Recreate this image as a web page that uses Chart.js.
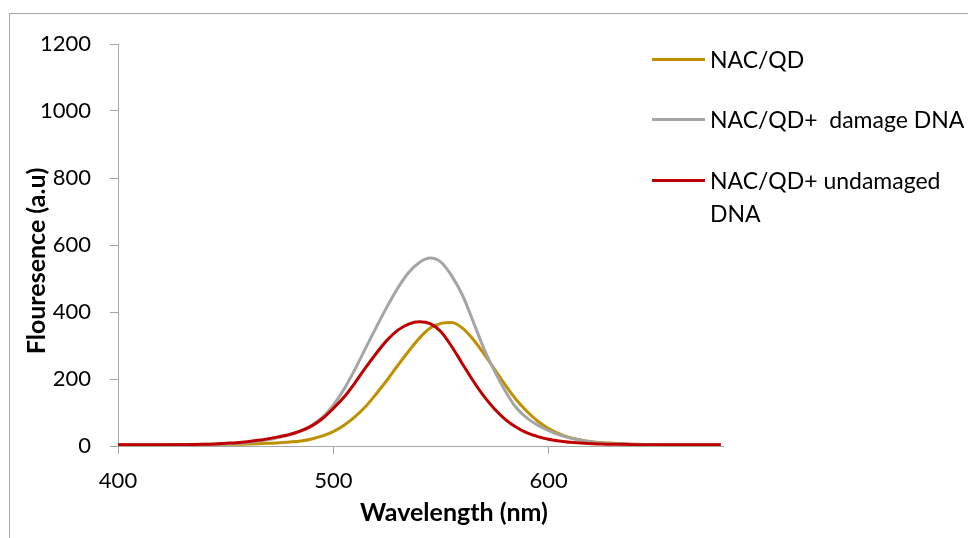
<!DOCTYPE html>
<html>
<head>
<meta charset="utf-8">
<title>Flouresence spectra</title>
<script src="https://cdn.jsdelivr.net/npm/chart.js@4.4.1/dist/chart.umd.min.js"></script>
<style>
  body { margin: 0; background: #fff; overflow: hidden; font-family: Lato, sans-serif; }
  #frame { position: absolute; left: 9px; top: 13px; width: 1000px; height: 600px; border: 1px solid #a6a6a6; }
  #chart { position: absolute; left: 0; top: 0; }
  .legend-item { position: absolute; left: 652px; display: flex; align-items: flex-start; }
  .legend-line { width: 53px; height: 3px; margin-top: 15px; margin-right: 5px; }
  .legend-text { width: 256px; font-size: 23px; line-height: 33px; white-space: pre-wrap; color: #000; }
</style>
</head>
<body>
<div id="frame"></div>
<canvas id="chart" width="968" height="538"></canvas>
<div id="legend"></div>

<script>
// values (5 nm steps where the peaks are)
const wavelengths = [400, 420,
    440, 445, 450, 455, 460, 465, 470, 475, 480, 485,
    490, 495, 500, 505, 510, 515, 520, 525, 530, 535,
    540, 545, 550, 555, 560, 565, 570, 575, 580, 585,
    590, 595, 600, 605, 610, 615, 620, 625, 630, 635,
    640, 660, 680];

const nacQd = [4, 4,
    4, 4, 5, 5, 6, 7, 8, 10, 12, 15,
    21, 30, 43, 62, 87, 118, 156, 197, 241, 283,
    322, 352, 366, 369, 352, 318, 275, 228, 181, 138,
    103, 74, 52, 36, 25, 18, 13, 10, 8, 6,
    5, 4, 4];

const damageDna = [4, 4,
    5, 5, 6, 8, 10, 14, 19, 26, 34, 46,
    62, 86, 122, 170, 228, 292, 355, 416, 472, 518,
    548, 561, 549, 508, 450, 371, 290, 222, 163, 114,
    83, 62, 46, 33, 24, 17, 12, 9, 7, 6,
    5, 4, 4];

const undamagedDna = [4, 4,
    5, 6, 8, 10, 13, 17, 22, 28, 35, 45,
    60, 82, 112, 146, 188, 234, 277, 316, 346, 364,
    371, 365, 341, 297, 245, 194, 148, 110, 79, 56,
    39, 28, 20, 15, 11, 9, 7, 6, 5, 5,
    4, 4, 4];

const seriesNames = ["NAC/QD", "NAC/QD+  damage DNA", "NAC/QD+ undamaged DNA"];
const seriesColors = ["#bf9000", "#a5a5a5", "#c00000"];

const xTicks = [400, 500, 600];
const yTicks = [0, 200, 400, 600, 800, 1000, 1200];

const xTitle = "Wavelength (nm)";
const yTitle = "Flouresence (a.u)";


window.onload = function () {

    drawChart();
    drawLegend();

};


function toPoints(values) {
    return wavelengths.map((w, i) => ({ x: w, y: values[i] }));
}


// axis titles are off-centre in the original, so they are placed by hand
const axisTitles = {
    id: "axisTitles",
    afterDraw(chart) {
        const ctx = chart.ctx;
        ctx.save();
        ctx.fillStyle = "#000";
        ctx.font = "bold 25px Lato";
        ctx.textAlign = "center";
        ctx.textBaseline = "middle";
        ctx.fillText(xTitle, 454, 513);
        ctx.translate(37, 261);
        ctx.rotate(-Math.PI / 2);
        ctx.fillText(yTitle, 0, 0);
        ctx.restore();
    }
};


function drawChart() {

    const ctx = document.getElementById("chart").getContext("2d");
    const all = [nacQd, damageDna, undamagedDna];

    // red first so it sits on top, like the original
    const order = [2, 1, 0];

    const tickFont = { family: "Lato", size: 22 };
    const axisGrey = "#a6a6a6";

    new Chart(ctx, {
        type: "line",
        data: {
            datasets: order.map(i => ({
                label: seriesNames[i],
                data: toPoints(all[i]),
                borderColor: seriesColors[i],
                backgroundColor: seriesColors[i],
                borderWidth: 3,
                pointRadius: 0,
                cubicInterpolationMode: "monotone",
                fill: false
            }))
        },
        options: {
            responsive: false,
            animation: false,
            devicePixelRatio: 1,
            layout: { padding: { left: 0, top: 44, right: 245, bottom: 0 } },
            plugins: {
                legend: { display: false },
                tooltip: { enabled: false }
            },
            scales: {
                x: {
                    type: "linear",
                    min: 400,
                    max: 681,
                    afterBuildTicks: s => { s.ticks = xTicks.map(v => ({ value: v })); },
                    afterFit: s => { s.height = 92; },
                    ticks: { font: tickFont, color: "#000", padding: 14, maxRotation: 0, callback: v => String(v) },
                    grid: { drawOnChartArea: false, drawTicks: true, tickLength: 8, color: axisGrey },
                    border: { color: axisGrey }
                },
                y: {
                    min: 0,
                    max: 1200,
                    afterBuildTicks: s => { s.ticks = yTicks.map(v => ({ value: v })); },
                    afterFit: s => { s.width = 118; },
                    ticks: { font: tickFont, color: "#000", padding: 19, callback: v => String(v) },
                    grid: { drawOnChartArea: false, drawTicks: true, tickLength: 8, color: axisGrey },
                    border: { color: axisGrey }
                }
            }
        },
        plugins: [axisTitles]
    });

}


function drawLegend() {

    const box = document.getElementById("legend");
    const tops = [43, 103, 164];

    seriesNames.forEach((name, i) => {
        let item = document.createElement("div");
        item.className = "legend-item";
        item.style.top = tops[i] + "px";

        let line = document.createElement("div");
        line.className = "legend-line";
        line.style.background = seriesColors[i];

        let text = document.createElement("div");
        text.className = "legend-text";
        text.textContent = name;

        item.appendChild(line);
        item.appendChild(text);
        box.appendChild(item);
    });

}
</script>
</body>
</html>
